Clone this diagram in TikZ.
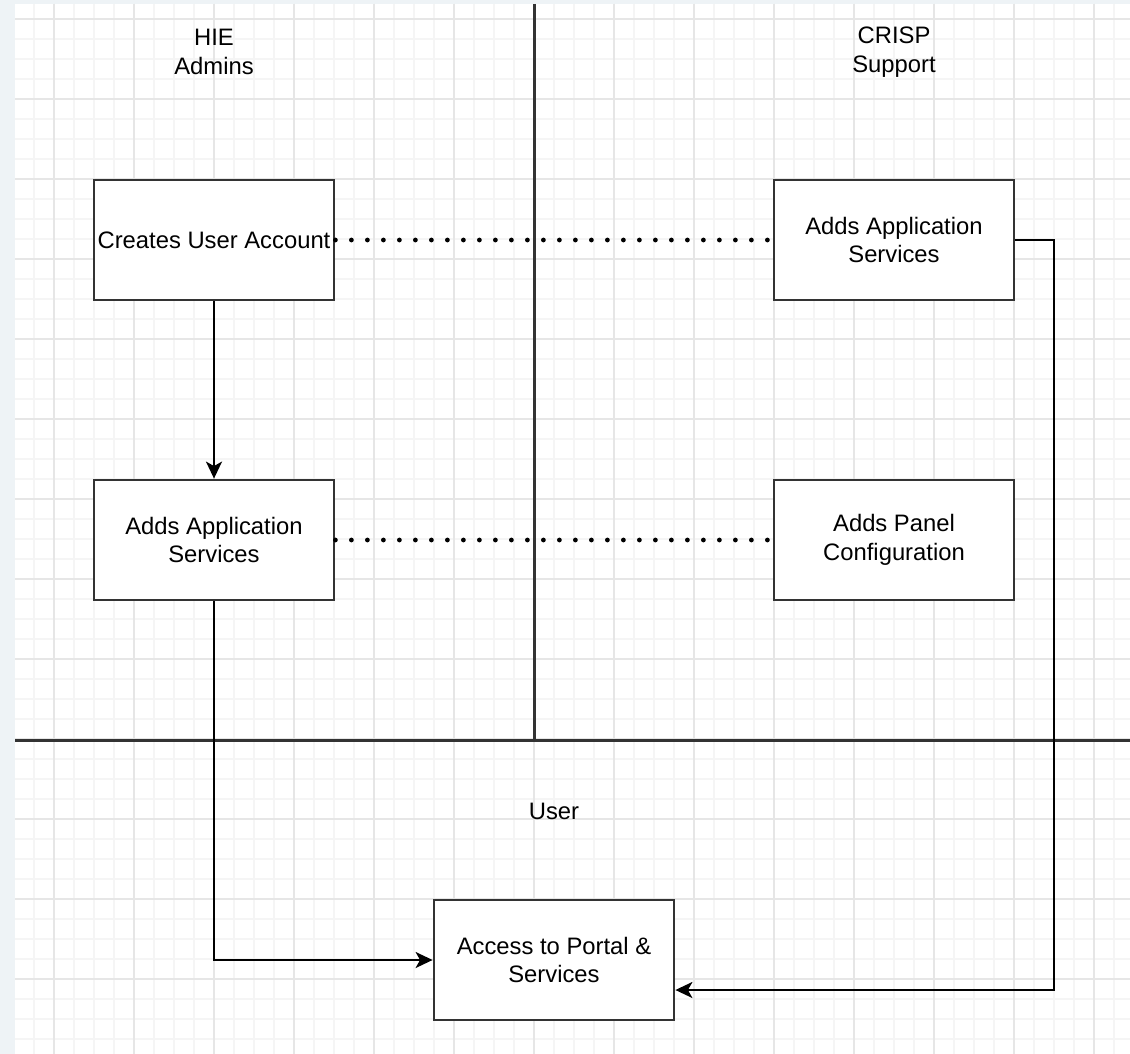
\documentclass[tikz,border=0pt]{standalone}
\usepackage{fontspec}
\setmainfont{Liberation Sans}
\usetikzlibrary{arrows.meta}
\definecolor{stripbg}{HTML}{EEF3F6}
\definecolor{minorgrid}{HTML}{F5F5F5}
\definecolor{majorgrid}{HTML}{E6E6E6}
\definecolor{edge}{HTML}{333333}
\begin{document}
\begin{tikzpicture}[x=1pt,y=-1pt,
  box/.style={draw=edge, line width=2.8pt, fill=white, minimum width=240pt, minimum height=120pt,
    inner sep=0pt, align=center, font=\fontsize{23.8}{28.5}\selectfont},
  lbl/.style={inner sep=0pt, align=center, font=\fontsize{23.8}{28.5}\selectfont},
  flow/.style={draw=black, line width=2.2pt, -{Stealth[length=17pt,width=16pt,inset=4.5pt]}},
  dots/.style={draw=black, line width=4.8pt, line cap=round, dash pattern=on 0pt off 16pt},
  sep/.style={draw=edge, line width=3pt}]
\useasboundingbox (0,0) rectangle (1130,1054);
\fill[stripbg] (0,0) rectangle (1130,1054);
\fill[white] (15,4) rectangle (1130,1054);
\foreach \i in {34,54,...,1114} \draw[minorgrid, line width=1.6pt] (\i,4) -- (\i,1054);
\foreach \j in {19,39,...,1039} \draw[minorgrid, line width=1.6pt] (15,\j) -- (1130,\j);
\foreach \i in {54,134,...,1114} \draw[majorgrid, line width=1.6pt] (\i,4) -- (\i,1054);
\foreach \j in {19,99,...,1039} \draw[majorgrid, line width=1.6pt] (15,\j) -- (1130,\j);

% lane separators
\coordinate (vtop) at (534,4);
\coordinate (vbot) at (534,740);
\coordinate (hl) at (15,740);
\coordinate (hr) at (1130,740);
\draw[sep] (vtop) -- (vbot);
\draw[sep] (hl) -- (hr);

% lane labels
\node[lbl] (hie) at (214,52) {HIE\\Admins};
\node[lbl] (crisp) at (894,52) {CRISP\\Support};
\node[lbl] (user) at (554,811) {User};

% boxes
\node[box] (create) at (214,240) {Creates User Account};
\node[box] (addsL) at (214,540) {Adds Application\\Services};
\node[box] (addsR) at (894,240) {Adds Application\\Services};
\node[box] (panel) at (894,540) {Adds Panel\\Configuration};
\node[box] (access) at (554,960) {Access to Portal \&\\Services};

% connectors
\draw[dots] (create.east) -- (addsR.west);
\draw[dots] (addsL.east) -- (panel.west);
\draw[flow] (create.south) -- (addsL.north);
\draw[flow] (addsL.south) |- (access.west);
\coordinate (rt) at (1054,240);
\coordinate (rb) at (1054,990);
\draw[flow] (addsR.east) -- (rt) -- (rb) -- (access.east |- rb);
\end{tikzpicture}
\end{document}
